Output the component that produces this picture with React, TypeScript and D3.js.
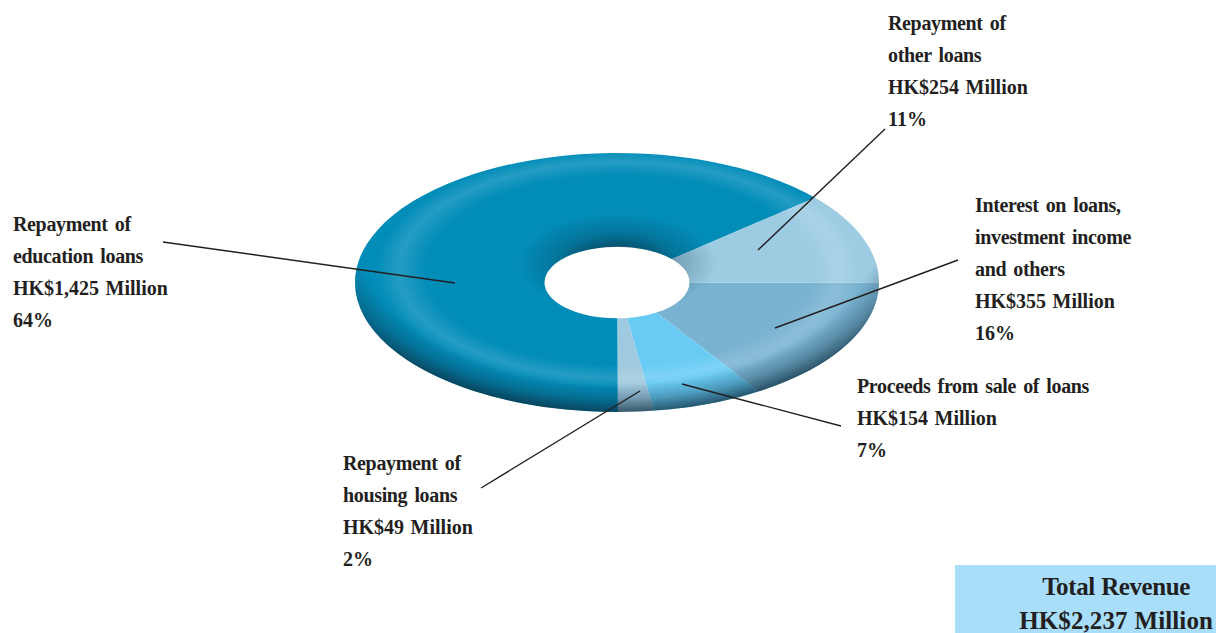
import React from "react";
import * as d3 from "d3";

// Revenue sources, clockwise from three o'clock.
const sources = ["interest", "proceeds", "housing", "education", "other"];
const amounts = [355, 154, 49, 1425, 254];
const fills = ["#79B3D1", "#69CBF4", "#9FC9DF", "#028DB9", "#9CCBE2"];

const labelLines = [
  ["Interest on loans,", "investment income", "and others", "HK$355 Million", "16%"],
  ["Proceeds from sale of loans", "HK$154 Million", "7%"],
  ["Repayment of", "housing loans", "HK$49 Million", "2%"],
  ["Repayment of", "education loans", "HK$1,425 Million", "64%"],
  ["Repayment of", "other loans", "HK$254 Million", "11%"],
];
const labelX = [975, 857, 343, 13, 888];
const labelTop = [212, 393, 470, 231, 30];
const leaderLines = [
  [[958, 260], [775, 328]],
  [[841, 426], [682, 384]],
  [[481, 488], [640, 391]],
  [[163, 242], [455, 283]],
  [[885, 129], [758, 250]],
];
const totalLines = ["Total Revenue", "HK$2,237 Million"];

const W = 1216;
const H = 633;
const cx = 617;
const cy = 282.5;
const rx = 262;
const ry = 129.5;
const holeRatio = 72.5 / 262;

const INK = "#231F20";
const SERIF = "'Liberation Serif', serif";

// Figures set slightly wider than the tightened wording around them.
const isFigure = (t: string) => /^HK\$|%$/.test(t);

export default function App() {
  const pie = d3
    .pie<number>()
    .sort(null)
    .startAngle(Math.PI / 2)
    .endAngle(Math.PI / 2 + 2 * Math.PI);
  const arc = d3
    .arc<d3.PieArcDatum<number>>()
    .outerRadius(rx)
    .innerRadius(rx * holeRatio);
  const slices = pie(amounts);
  const squash = `translate(${cx},${cy}) scale(1,${ry / rx})`;
  const ring = d3
    .arc()({ innerRadius: rx * holeRatio, outerRadius: rx, startAngle: 0, endAngle: 2 * Math.PI }) as string;

  return (
    <svg
      width={W}
      height={H}
      viewBox={`0 0 ${W} ${H}`}
      style={{ position: "absolute", left: 0, top: 0, background: "#fff" }}
    >
      <defs>
        <radialGradient id="sheenOuter" gradientUnits="userSpaceOnUse" cx={0} cy={0} r={1.1}
          gradientTransform="translate(619,270) scale(220,108)">
          <stop offset="0.8" stopColor="#fff" stopOpacity={0} />
          <stop offset="0.91" stopColor="#fff" stopOpacity={0.14} />
          <stop offset="1" stopColor="#fff" stopOpacity={0} />
        </radialGradient>
        <radialGradient id="rimShade" gradientUnits="userSpaceOnUse" cx={0} cy={0} r={1}
          gradientTransform="translate(617,225) scale(310,187)">
          <stop offset="0.85" stopColor="#0B2A3D" stopOpacity={0} />
          <stop offset="0.93" stopColor="#0B2A3D" stopOpacity={0.3} />
          <stop offset="1" stopColor="#0B2A3D" stopOpacity={0.72} />
        </radialGradient>
        <radialGradient id="holeShade" gradientUnits="userSpaceOnUse" cx={0} cy={0} r={1}
          gradientTransform="translate(617,263) scale(100,50)">
          <stop offset="0.3" stopColor="#0A2A3C" stopOpacity={0.62} />
          <stop offset="0.6" stopColor="#0A2A3C" stopOpacity={0.25} />
          <stop offset="1" stopColor="#0A2A3C" stopOpacity={0} />
        </radialGradient>
        <clipPath id="donut">
          <path d={ring} transform={squash} />
        </clipPath>
      </defs>

      <g transform={squash}>
        {slices.map((s, i) => (
          <path key={sources[i]} d={arc(s) as string} fill={fills[i]} />
        ))}
      </g>

      <g clipPath="url(#donut)">
        <rect width={W} height={H} fill="url(#holeShade)" />
        <rect width={W} height={H} fill="url(#sheenOuter)" />
        <rect width={W} height={H} fill="url(#rimShade)" />
      </g>

      <g stroke={INK} strokeWidth={1.4} fill="none">
        {leaderLines.map((pts, i) => (
          <path key={sources[i]} d={d3.line()(pts as [number, number][]) as string} />
        ))}
      </g>

      <g fontFamily={SERIF} fontWeight={700} fontSize={20} fill={INK}>
        {labelLines.map((lines, i) =>
          lines.map((t, j) => (
            <text
              key={`${sources[i]}-${j}`}
              x={labelX[i]}
              y={labelTop[i] + j * 32}
              letterSpacing={isFigure(t) ? 0 : -0.35}
              wordSpacing={isFigure(t) ? 1.5 : 2.5}
            >
              {t}
            </text>
          ))
        )}
      </g>

      <rect x={955} y={565} width={261} height={68} fill="#A8DEFA" />
      <g fontFamily={SERIF} fontWeight={700} fontSize={25} fill={INK} wordSpacing={0.5}>
        <text x={1190} y={595} textAnchor="end" letterSpacing={-0.4}>{totalLines[0]}</text>
        <text x={1213} y={629} textAnchor="end" letterSpacing={0.1}>{totalLines[1]}</text>
      </g>
    </svg>
  );
}
